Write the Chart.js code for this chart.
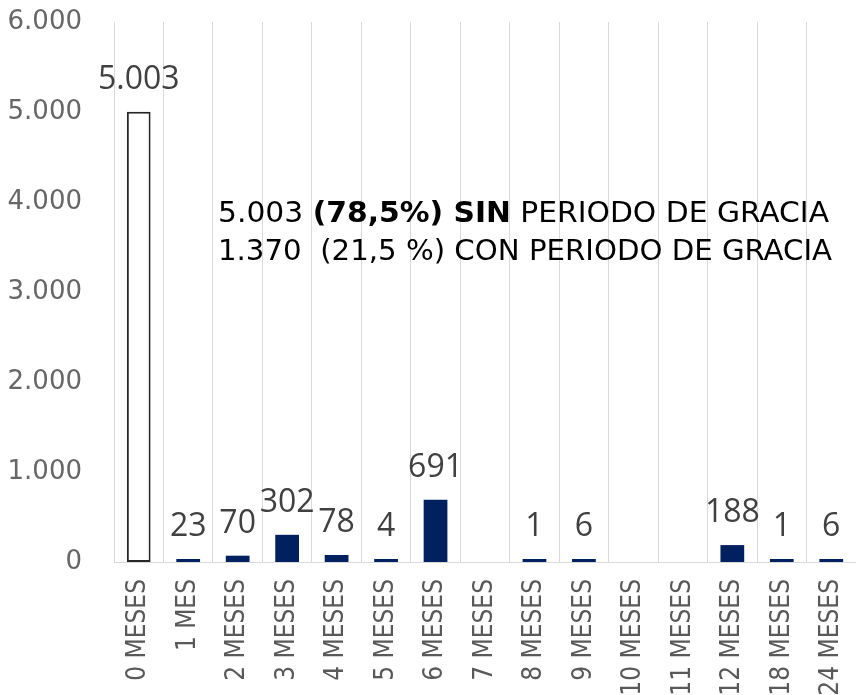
<!DOCTYPE html>
<html>
<head>
<meta charset="utf-8">
<script src="https://cdn.jsdelivr.net/npm/chart.js@4.4.1/dist/chart.umd.min.js"></script>
<style>
  html, body { margin: 0; padding: 0; background: #fff; }
  canvas { display: block; }
</style>
</head>
<body>
<canvas id="chart" width="856" height="695"></canvas>
<script>
// datos del gráfico
const categorias = ['0 MESES', '1 MES', '2 MESES', '3 MESES', '4 MESES', '5 MESES', '6 MESES', '7 MESES',
  '8 MESES', '9 MESES', '10 MESES', '11 MESES', '12 MESES', '18 MESES', '24 MESES'];
const creditos = [5003, 23, 70, 302, 78, 4, 691, null, 1, 6, null, null, 188, 1, 6];
const yTicks = [0, 1000, 2000, 3000, 4000, 5000, 6000];
const nota1 = [['5.003 ', false], ['(78,5%) SIN', true], [' PERIODO DE GRACIA', false]];
const nota2 = [['1.370  (21,5 %) CON PERIODO DE GRACIA', false]];

function miles(v) {
  return String(v).replace(/\B(?=(\d{3})+(?!\d))/g, '.');
}

const etiquetas = {
  id: 'etiquetas',
  afterDatasetsDraw(chart) {
    const ctx = chart.ctx;
    const meta = chart.getDatasetMeta(0);
    ctx.save();
    ctx.font = '32px "Open Sans"';
    ctx.fillStyle = '#404040';
    ctx.textAlign = 'center';
    ctx.textBaseline = 'alphabetic';
    meta.data.forEach((bar, i) => {
      const v = creditos[i];
      if (v === null) return;
      ctx.fillText(miles(v), bar.x, bar.y - 23);
    });
    ctx.restore();
  }
};

function linea(ctx, partes, x, y, ancho) {
  const fuente = b => (b ? 'bold ' : '') + '29px "DejaVu Sans Condensed", "DejaVu Sans"';
  let total = 0;
  partes.forEach(p => { ctx.font = fuente(p[1]); total += ctx.measureText(p[0]).width; });
  ctx.save();
  ctx.translate(x, y);
  ctx.scale(ancho / total, 1);
  let cx = 0;
  partes.forEach(p => {
    ctx.font = fuente(p[1]);
    ctx.fillText(p[0], cx, 0);
    cx += ctx.measureText(p[0]).width;
  });
  ctx.restore();
}

const nota = {
  id: 'nota',
  afterDraw(chart) {
    const ctx = chart.ctx;
    ctx.save();
    ctx.fillStyle = '#000';
    ctx.textBaseline = 'alphabetic';
    ctx.textAlign = 'left';
    linea(ctx, nota1, 218, 222, 611);
    linea(ctx, nota2, 218, 260, 614);
    ctx.restore();
  }
};

new Chart(document.getElementById('chart'), {
  type: 'bar',
  data: {
    labels: categorias,
    datasets: [{
      data: creditos,
      backgroundColor: c => c.dataIndex === 0 ? '#ffffff' : '#002060',
      borderColor: '#262626',
      borderWidth: c => c.dataIndex === 0 ? 2 : 0,
      borderSkipped: false,
      minBarLength: 3,
      barPercentage: 0.8,
      categoryPercentage: 0.6
    }]
  },
  options: {
    responsive: false,
    animation: false,
    layout: { padding: { top: 22, right: -2, left: 0, bottom: 0 } },
    plugins: {
      legend: { display: false },
      tooltip: { enabled: false }
    },
    scales: {
      y: {
        min: 0,
        max: 6000,
        afterBuildTicks: s => { s.ticks = yTicks.map(v => ({ value: v })); },
        afterFit: s => { s.width = 114; s.paddingTop = 0; s.paddingBottom = 0; },
        grid: { display: false, drawTicks: false },
        border: { display: false },
        ticks: {
          padding: 32,
          color: '#666666',
          font: { family: 'DejaVu Sans', size: 26 },
          callback: v => miles(v)
        }
      },
      x: {
        afterFit: s => { s.height = 133; s.paddingLeft = 0; s.paddingRight = 0; },
        grid: { color: '#d9d9d9', lineWidth: 1, drawTicks: false, offset: true },
        border: { color: '#d9d9d9', width: 1 },
        ticks: {
          padding: 17,
          minRotation: 90,
          maxRotation: 90,
          autoSkip: false,
          color: '#595959',
          font: { family: '"DejaVu Sans Condensed", "DejaVu Sans"', size: 26 }
        }
      }
    }
  },
  plugins: [etiquetas, nota]
});
</script>
</body>
</html>
